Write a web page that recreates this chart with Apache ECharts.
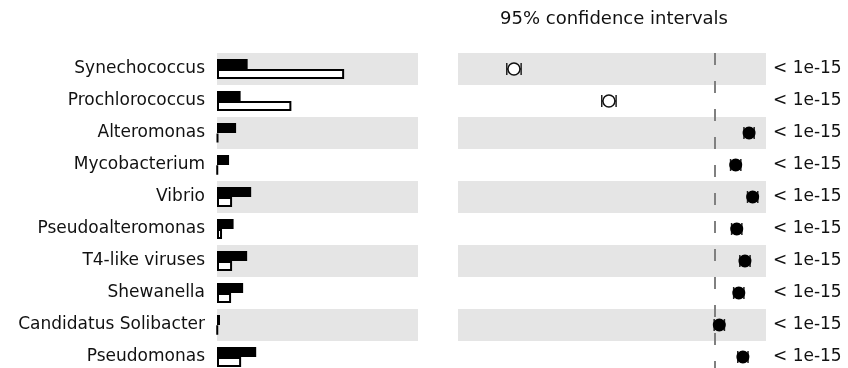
<!DOCTYPE html>
<html>
<head>
<meta charset="utf-8">
<script src="https://cdn.jsdelivr.net/npm/echarts@6/dist/echarts.min.js"></script>
<style>
    * {margin: 0; padding: 0;}
    html, body {overflow: hidden; background: #fff;}
    /* taller than the window on purpose: the last row is cut off at the bottom */
    #main {width: 848px; height: 373px;}
</style>
</head>
<body>
<div id="main"></div>
<script type="text/javascript">
// taxa, top to bottom
const taxa = [
    'Synechococcus', 'Prochlorococcus', 'Alteromonas', 'Mycobacterium', 'Vibrio',
    'Pseudoalteromonas', 'T4-like viruses', 'Shewanella', 'Candidatus Solibacter', 'Pseudomonas'
];

// relative abundance, two samples (black / white bars)
const abundanceA = [6.1, 4.7, 3.8, 2.4, 6.8, 3.3, 6.0, 5.2, 0.6, 7.8];
const abundanceB = [25.3, 14.8, 0.2, 0.1, 3.0, 1.0, 3.0, 2.8, 0.1, 4.8];

// difference and its 95% confidence interval
const effect = [-3.91, -2.06, 0.67, 0.41, 0.74, 0.43, 0.59, 0.47, 0.09, 0.55];
const ciLow = [-4.05, -2.20, 0.57, 0.31, 0.64, 0.33, 0.49, 0.37, -0.01, 0.45];
const ciHigh = [-3.77, -1.92, 0.77, 0.51, 0.84, 0.53, 0.69, 0.57, 0.19, 0.65];

const pValues = ['< 1e-15', '< 1e-15', '< 1e-15', '< 1e-15', '< 1e-15',
    '< 1e-15', '< 1e-15', '< 1e-15', '< 1e-15', '< 1e-15'];

const FONT = 'DejaVu Sans';
const BAND = ['#e5e5e5', 'rgba(0,0,0,0)'];

const chart = echarts.init(document.getElementById('main'), null, {renderer: 'canvas'});

function hidden(extra) {
    return Object.assign({
        axisLine: {show: false},
        axisTick: {show: false},
        splitLine: {show: false}
    }, extra);
}

chart.setOption({
    animation: false,
    textStyle: {fontFamily: FONT},
    title: {
        text: '95% confidence intervals',
        left: 500,
        top: 10,
        padding: 0,
        textStyle: {fontFamily: FONT, fontSize: 18, fontWeight: 'normal', color: '#111'}
    },
    grid: [
        {left: 217, top: 53, width: 201, height: 320},
        {left: 458, top: 53, width: 308, height: 320}
    ],
    xAxis: [
        hidden({gridIndex: 0, type: 'value', min: 0, max: 40, axisLabel: {show: false}}),
        hidden({gridIndex: 1, type: 'value', min: -5, max: 1, axisLabel: {show: false}})
    ],
    yAxis: [
        hidden({
            gridIndex: 0,
            type: 'category',
            inverse: true,
            data: taxa,
            splitArea: {show: true, areaStyle: {color: BAND}},
            axisLabel: {fontFamily: FONT, fontSize: 17, color: '#111', margin: 12}
        }),
        hidden({
            gridIndex: 1,
            type: 'category',
            inverse: true,
            data: taxa,
            splitArea: {show: true, areaStyle: {color: BAND}},
            axisLabel: {show: false}
        }),
        hidden({
            gridIndex: 1,
            type: 'category',
            position: 'right',
            inverse: true,
            data: taxa,
            axisLabel: {
                fontFamily: FONT,
                fontSize: 17,
                color: '#111',
                margin: 7,
                formatter: (v, i) => pValues[i]
            }
        })
    ],
    series: [
        {
            type: 'bar',
            xAxisIndex: 0,
            yAxisIndex: 0,
            data: abundanceA,
            barWidth: 10,
            barGap: '0%',
            itemStyle: {color: '#000'}
        },
        {
            type: 'bar',
            xAxisIndex: 0,
            yAxisIndex: 0,
            data: abundanceB,
            barWidth: 10,
            barGap: '0%',
            itemStyle: {color: '#fff', borderColor: '#000', borderWidth: 2}
        },
        {
            // dashed zero line
            type: 'line',
            xAxisIndex: 1,
            yAxisIndex: 1,
            data: [],
            z: 1,
            markLine: {
                silent: true,
                symbol: 'none',
                label: {show: false},
                lineStyle: {color: '#808080', type: [12, 16], width: 2},
                data: [{xAxis: 0}]
            }
        },
        {
            // confidence interval whiskers
            type: 'custom',
            xAxisIndex: 1,
            yAxisIndex: 1,
            data: taxa.map((t, i) => [ciLow[i], i, ciHigh[i]]),
            encode: {x: [0, 2], y: 1},
            renderItem(params, api) {
                const lo = api.coord([api.value(0), api.value(1)]);
                const hi = api.coord([api.value(2), api.value(1)]);
                const h = 6;
                const style = {stroke: '#222', lineWidth: 1.5, fill: null};
                return {
                    type: 'group',
                    children: [
                        {type: 'line', shape: {x1: lo[0], y1: lo[1], x2: hi[0], y2: hi[1]}, style},
                        {type: 'line', shape: {x1: lo[0], y1: lo[1] - h, x2: lo[0], y2: lo[1] + h}, style},
                        {type: 'line', shape: {x1: hi[0], y1: hi[1] - h, x2: hi[0], y2: hi[1] + h}, style}
                    ]
                };
            },
            z: 2
        },
        {
            type: 'scatter',
            xAxisIndex: 1,
            yAxisIndex: 1,
            z: 3,
            data: effect.map((v, i) => ({
                value: [v, i],
                symbolSize: v < 0 ? 12 : 13,
                itemStyle: v < 0
                    ? {color: '#fff', borderColor: '#111', borderWidth: 1.5, opacity: 1}
                    : {color: '#000', opacity: 1}
            }))
        }
    ]
});
</script>
</body>
</html>
